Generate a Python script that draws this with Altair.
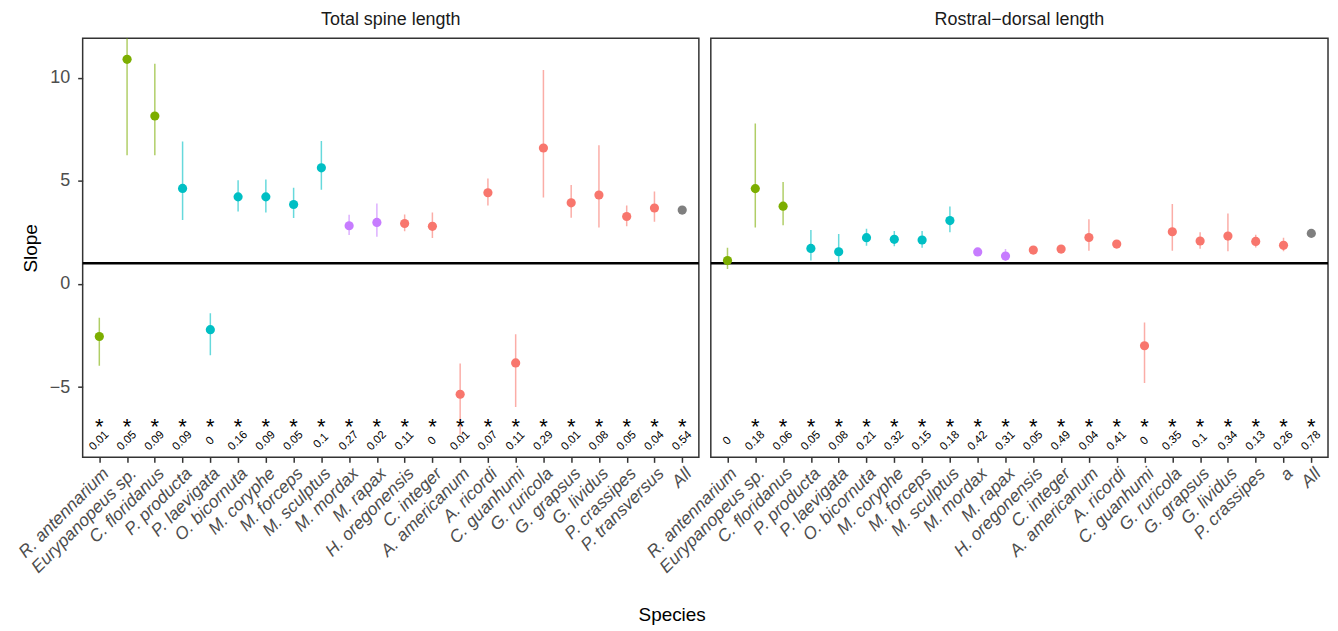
import altair as alt
import pandas as pd

# ---------------- data ----------------
species_tsl = ["R. antennarium", "Eurypanopeus sp.", "C. floridanus", "P. producta", "P. laevigata",
               "O. bicornuta", "M. coryphe", "M. forceps", "M. sculptus", "M. mordax", "M. rapax",
               "H. oregonensis", "C. integer", "A. americanum", "A. ricordi", "C. guanhumi",
               "G. ruricola", "G. grapsus", "G. lividus", "P. crassipes", "P. transversus", "All"]
group_tsl = ["g1", "g1", "g1", "g2", "g2", "g2", "g2", "g2", "g2", "g3", "g3",
             "g4", "g4", "g4", "g4", "g4", "g4", "g4", "g4", "g4", "g4", "all"]
slope_tsl = [-2.55, 10.89, 8.14, 4.63, -2.22, 4.22, 4.22, 3.85, 5.63, 2.82, 2.98,
             2.93, 2.79, -5.35, 4.42, -3.83, 6.59, 3.93, 4.31, 3.27, 3.68, 3.58]
lo_tsl = [-3.97, 6.24, 6.24, 3.10, -3.46, 3.51, 3.46, 3.19, 4.56, 2.37, 2.29,
          2.55, 2.23, -7.30, 3.80, -5.97, 4.19, 3.21, 2.74, 2.79, 3.01, 3.58]
hi_tsl = [-1.64, 14.00, 10.67, 6.90, -1.42, 5.03, 5.06, 4.66, 6.93, 3.35, 3.90,
          3.37, 3.46, -3.86, 5.11, -2.44, 10.37, 4.80, 6.72, 3.80, 4.48, 3.58]
p_tsl = ["0.01", "0.05", "0.09", "0.09", "0", "0.16", "0.09", "0.05", "0.1", "0.27", "0.02",
         "0.11", "0", "0.01", "0.07", "0.11", "0.29", "0.01", "0.08", "0.05", "0.04", "0.54"]
sig_tsl = ["*"] * 22

species_rdl = ["R. antennarium", "Eurypanopeus sp.", "C. floridanus", "P. producta", "P. laevigata",
               "O. bicornuta", "M. coryphe", "M. forceps", "M. sculptus", "M. mordax", "M. rapax",
               "H. oregonensis", "C. integer", "A. americanum", "A. ricordi", "C. guanhumi",
               "G. ruricola", "G. grapsus", "G. lividus", "P. crassipes", "a", "All"]
group_rdl = ["g1", "g1", "g1", "g2", "g2", "g2", "g2", "g2", "g2", "g3", "g3",
             "g4", "g4", "g4", "g4", "g4", "g4", "g4", "g4", "g4", "g4", "all"]
slope_rdl = [1.13, 4.62, 3.77, 1.72, 1.56, 2.24, 2.16, 2.13, 3.07, 1.55, 1.35,
             1.64, 1.69, 2.25, 1.93, -3.00, 2.53, 2.08, 2.32, 2.06, 1.87, 2.45]
lo_rdl = [0.72, 2.74, 2.85, 1.13, 1.00, 1.85, 1.82, 1.75, 2.51, 1.46, 1.13,
          1.55, 1.58, 1.61, 1.84, -4.80, 1.61, 1.71, 1.58, 1.77, 1.58, 2.45]
hi_rdl = [1.75, 7.78, 4.94, 2.61, 2.42, 2.67, 2.56, 2.56, 3.75, 1.64, 1.69,
          1.73, 1.80, 3.14, 2.02, -1.87, 3.88, 2.51, 3.41, 2.38, 2.24, 2.45]
p_rdl = ["0", "0.18", "0.06", "0.05", "0.08", "0.21", "0.32", "0.15", "0.18", "0.42", "0.31",
         "0.05", "0.49", "0.04", "0.41", "0", "0.35", "0.1", "0.34", "0.13", "0.26", "0.78"]
sig_rdl = [""] + ["*"] * 21

group_domain = ["g1", "g2", "g3", "g4", "all"]
group_colors = ["#7CAE00", "#00BFC4", "#C77CFF", "#F8766D", "#7F7F7F"]
y_ticks = [-5, 0, 5, 10]
isometry = [1]

FONT = "Liberation Sans"
PH = 421
yscale = alt.Scale(domain=[-8.41, 11.91], nice=False, zero=False)
cscale = alt.Scale(domain=group_domain, range=group_colors)


def panel(species, groups, slope, lo, hi, pv, sig, title, show_y, pw):
    df = pd.DataFrame(dict(species=species, group=groups, slope=slope, lo=lo, hi=hi, p=pv, sig=sig))
    if show_y:
        yaxis = alt.Axis(values=y_ticks, title="Slope", grid=False,
                         labelExpr="replace(datum.label, '-', '\u2212')")
    else:
        yaxis = None
    xenc = alt.X("species:N", sort=species, title=None,
                 scale=alt.Scale(type="point", padding=0.6),
                 axis=alt.Axis(labelAngle=315, labelAlign="right", labelBaseline="top",
                               labelFontStyle="italic", grid=False, labelPadding=2,
                               labelFontSize=17.5))
    color = alt.Color("group:N", scale=cscale, legend=None)
    base = alt.Chart(df).encode(x=xenc)

    bars = base.mark_rule(strokeWidth=1.5, opacity=0.6, clip=True).encode(
        y=alt.Y("lo:Q", scale=yscale, axis=yaxis, title="Slope"),
        y2="hi:Q", color=color)
    pts = base.mark_circle(size=85, opacity=1, clip=True).encode(
        y=alt.Y("slope:Q", scale=yscale, axis=yaxis, title="Slope"), color=color)
    hline = alt.Chart(pd.DataFrame({"v": isometry})).mark_rule(color="black", strokeWidth=2.4).encode(
        y=alt.Y("v:Q", scale=yscale, axis=yaxis, title="Slope"))
    stars = base.mark_text(fontSize=22, font=FONT, color="black", baseline="middle").encode(
        y=alt.YDatum(-6.95, scale=yscale, axis=yaxis, title="Slope"), text="sig:N")
    ptxt = base.mark_text(fontSize=11.5, font=FONT, color="black", angle=315,
                          align="center", baseline="middle").encode(
        y=alt.YDatum(-7.62, scale=yscale, axis=yaxis, title="Slope"), text="p:N")

    return alt.layer(bars, hline, pts, stars, ptxt).properties(
        width=pw, height=PH,
        title=alt.TitleParams(title, fontSize=18, fontWeight="normal", color="#1a1a1a",
                              font=FONT, anchor="middle", offset=9))


left = panel(species_tsl, group_tsl, slope_tsl, lo_tsl, hi_tsl, p_tsl, sig_tsl,
             "Total spine length", True, 619)
right = panel(species_rdl, group_rdl, slope_rdl, lo_rdl, hi_rdl, p_rdl, sig_rdl,
              "Rostral\u2212dorsal length", False, 620)

chart = alt.hconcat(left, right, spacing=12, bounds="flush").properties(
    title=alt.TitleParams("Species", orient="bottom", anchor="middle", fontSize=19,
                          fontWeight="normal", color="black", font=FONT, offset=30),
    padding={"left": 6, "top": 1, "right": 0, "bottom": 0},
).configure_view(
    stroke="#333333", strokeWidth=1.5
).configure_axis(
    domain=False, tickColor="#333333", tickWidth=1.5, tickSize=5,
    labelColor="#4d4d4d", labelFont=FONT, labelFontSize=18, labelPadding=8,
    titleFont=FONT, titleFontSize=19, titleFontWeight="normal", titleColor="black",
    titlePadding=9
)

chart.save("out.html", embed_options={"renderer": "svg", "actions": False})
